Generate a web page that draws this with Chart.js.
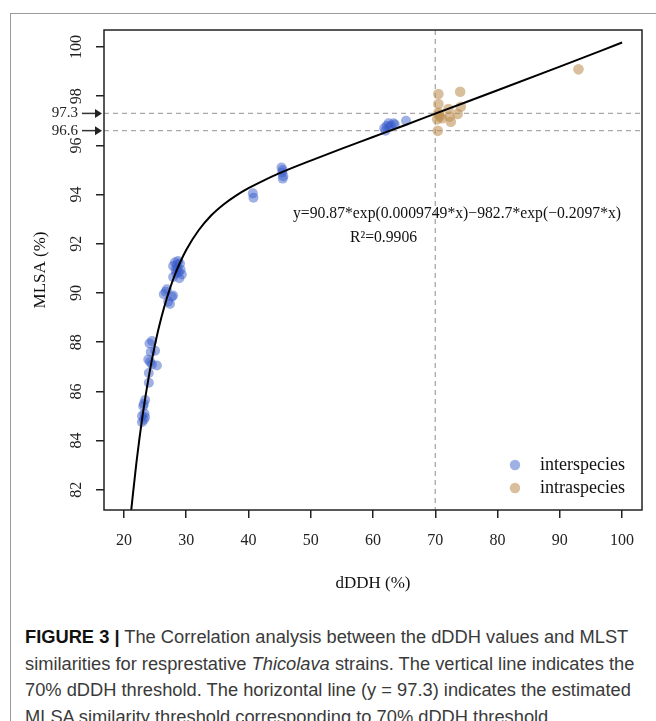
<!DOCTYPE html>
<html>
<head>
<meta charset="utf-8">
<script src="https://cdn.jsdelivr.net/npm/chart.js@4.4.0/dist/chart.umd.min.js"></script>
<style>
  html, body { margin: 0; padding: 0; background: #fff; overflow: hidden; width: 656px; height: 721px; }
  #frame { position: absolute; left: 10px; top: 13px; width: 700px; height: 760px; border: 1.5px solid #9a9a9a; box-sizing: border-box; }
  #wrap { position: absolute; left: 0; top: 0; width: 656px; height: 600px; }
  #caption { position: absolute; left: 25px; top: 624px; font-family: 'Liberation Sans', Arial, sans-serif; font-size: 18.3px; line-height: 26.5px; color: #3a3a3a; white-space: nowrap; }
  #caption b { color: #111; }
</style>
</head>
<body>
<div id="frame"></div>
<div id="wrap"><canvas id="chart" width="656" height="600"></canvas></div>
<div id="caption"><b>FIGURE 3 |</b> The Correlation analysis between the dDDH values and MLST<br>similarities for resprestative <i>Thicolava</i> strains. The vertical line indicates the<br>70% dDDH threshold. The horizontal line (y = 97.3) indicates the estimated<br>MLSA similarity threshold corresponding to 70% dDDH threshold.</div>
<script>
// interspecies (blue)
var interX = [23.4, 23.1, 23.2, 22.9, 23.3, 23.2, 22.9, 23.4,
              24.0, 24.0, 24.5, 23.9, 25.3, 24.3, 25.0, 24.1, 24.5, 24.2,
              26.9, 26.4, 27.7, 27.1, 27.4, 27.9, 26.7,
              28.2, 28.7, 27.9, 28.6, 29.1, 28.4, 28.9, 27.9, 29.3, 28.5, 29.0, 28.8, 28.3,
              40.7, 40.8,
              45.3, 45.5, 45.4, 45.6, 45.5,
              61.8, 62.2, 62.5, 62.9, 63.3, 62.0, 63.5, 65.3, 62.6];
var interY = [85.65, 85.4, 85.5, 85.0, 85.1, 84.85, 84.75, 84.95,
              86.35, 86.75, 87.1, 87.3, 87.05, 87.6, 87.65, 87.95, 88.05, 87.2,
              90.15, 89.95, 89.85, 89.65, 89.55, 89.9, 90.05,
              91.25, 91.3, 91.1, 91.0, 90.95, 90.8, 90.6, 90.65, 90.75, 91.15, 91.2, 90.85, 90.95,
              94.05, 93.87,
              95.1, 95.0, 94.9, 94.75, 94.65,
              96.7, 96.8, 96.9, 96.8, 96.9, 96.6, 96.85, 97.0, 96.75];

// intraspecies (tan)
var intraX = [70.5, 74.0, 70.5, 72.1, 74.1, 70.5, 70.7, 70.3, 71.1, 72.3, 72.5, 73.6, 70.4, 93.0, 70.6];
var intraY = [98.09, 98.18, 97.68, 97.48, 97.57, 97.33, 97.17, 97.06, 97.1, 97.17, 96.96, 97.28, 96.59, 99.09, 97.25];

// fitted curve
var fitX = [21.17, 22, 23, 24, 25, 26, 27, 28, 29, 30, 32, 34, 36, 38, 40, 42, 45, 50, 55, 60, 65, 70, 80, 90, 100];
var fitY = [81.17, 83.09, 85.03, 86.61, 87.92, 88.99, 89.88, 90.62, 91.23, 91.75, 92.55, 93.15, 93.60, 93.96, 94.26,
            94.52, 94.87, 95.38, 95.87, 96.34, 96.81, 97.29, 98.24, 99.20, 100.18];

var xTicks = [20, 30, 40, 50, 60, 70, 80, 90, 100];
var yTicks = [82, 84, 86, 88, 90, 92, 94, 96, 98, 100];
var refLines = [97.3, 96.6];
var dddhCut = 70;
var seriesNames = ['interspecies', 'intraspecies'];

var serif = "'Liberation Serif', 'Times New Roman', serif";
var blue = 'rgba(55, 90, 200, 0.48)';
var tan = 'rgba(190, 145, 85, 0.58)';

function pts(xs, ys) {
    return xs.map(function(v, i) { return {x: v, y: ys[i]}; });
}

var decor = {
    id: 'decor',
    beforeDatasetsDraw: function(chart) {
        var ctx = chart.ctx, a = chart.chartArea, x = chart.scales.x, y = chart.scales.y;
        ctx.save();
        ctx.strokeStyle = '#a8a8a8';
        ctx.lineWidth = 1.3;
        ctx.setLineDash([5, 4]);
        var px = x.getPixelForValue(dddhCut);
        ctx.beginPath(); ctx.moveTo(px, a.top); ctx.lineTo(px, a.bottom); ctx.stroke();
        refLines.forEach(function(v) {
            var py = y.getPixelForValue(v);
            ctx.beginPath(); ctx.moveTo(a.left, py); ctx.lineTo(a.right, py); ctx.stroke();
        });
        ctx.restore();
    },
    afterDraw: function(chart) {
        var ctx = chart.ctx, a = chart.chartArea, y = chart.scales.y;
        ctx.save();
        // plot box
        ctx.strokeStyle = '#222';
        ctx.lineWidth = 1.5;
        ctx.strokeRect(a.left, a.top, a.right - a.left, a.bottom - a.top);

        // rotated y tick labels
        ctx.fillStyle = '#222';
        ctx.font = '16px ' + serif;
        ctx.textAlign = 'center';
        ctx.textBaseline = 'middle';
        y.ticks.forEach(function(t) {
            var py = y.getPixelForValue(t.value);
            ctx.save();
            ctx.translate(a.left - 27, py);
            ctx.rotate(-Math.PI / 2);
            ctx.fillText(String(t.value), 0, 0);
            ctx.restore();
        });

        // threshold arrows
        ctx.font = '15px ' + serif;
        ctx.textAlign = 'right';
        ctx.strokeStyle = '#333';
        ctx.fillStyle = '#222';
        ctx.lineWidth = 1.5;
        refLines.forEach(function(v) {
            var py = y.getPixelForValue(v);
            ctx.fillText(v.toFixed(1), a.left - 26, py);
            ctx.beginPath(); ctx.moveTo(a.left - 22, py); ctx.lineTo(a.left - 8, py); ctx.stroke();
            ctx.beginPath();
            ctx.moveTo(a.left - 9, py - 4.5);
            ctx.lineTo(a.left - 2, py);
            ctx.lineTo(a.left - 9, py + 4.5);
            ctx.closePath();
            ctx.fill();
        });

        // equation
        ctx.font = '15.7px ' + serif;
        ctx.textAlign = 'left';
        ctx.fillStyle = '#111';
        ctx.fillText('y=90.87*exp(0.0009749*x)\u2212982.7*exp(\u22120.2097*x)', 293, 214);
        ctx.fillText('R\u00b2=0.9906', 350, 238);

        // legend
        ctx.font = '18px ' + serif;
        [blue, tan].forEach(function(c, i) {
            var ly = a.bottom - 45 + i * 23;
            ctx.fillStyle = c;
            ctx.beginPath(); ctx.arc(a.right - 127, ly, 5.2, 0, Math.PI * 2); ctx.fill();
            ctx.fillStyle = '#111';
            ctx.fillText(seriesNames[i], a.right - 102, ly);
        });
        ctx.restore();
    }
};

new Chart(document.getElementById('chart').getContext('2d'), {
    type: 'scatter',
    data: {
        datasets: [
            {
                type: 'line',
                label: 'fit',
                data: pts(fitX, fitY),
                borderColor: '#000',
                borderWidth: 2,
                pointRadius: 0,
                cubicInterpolationMode: 'monotone',
                fill: false
            },
            {
                label: seriesNames[0],
                data: pts(interX, interY),
                backgroundColor: blue,
                borderWidth: 0,
                pointRadius: 5
            },
            {
                label: seriesNames[1],
                data: pts(intraX, intraY),
                backgroundColor: tan,
                borderWidth: 0,
                pointRadius: 5.3
            }
        ]
    },
    options: {
        responsive: false,
        animation: false,
        layout: { padding: { left: 0, right: 14, top: 30, bottom: 0 } },
        plugins: { legend: { display: false }, tooltip: { enabled: false } },
        scales: {
            x: {
                type: 'linear',
                min: 16.8,
                max: 103.2,
                afterBuildTicks: function(s) { s.ticks = xTicks.map(function(v) { return {value: v}; }); },
                afterFit: function(s) { s.height = 90; },
                border: { display: false },
                grid: { drawOnChartArea: false, drawTicks: true, tickLength: 8, tickColor: '#222', lineWidth: 1.5 },
                ticks: { color: '#222', padding: 13, font: { family: serif, size: 16 } },
                title: { display: true, text: 'dDDH (%)', color: '#111', font: { family: serif, size: 17 }, padding: { top: 0, bottom: 6 } }
            },
            y: {
                type: 'linear',
                min: 81.18,
                max: 100.69,
                afterBuildTicks: function(s) { s.ticks = yTicks.map(function(v) { return {value: v}; }); },
                afterFit: function(s) { s.width = 104; },
                border: { display: false },
                grid: { drawOnChartArea: false, drawTicks: true, tickLength: 8, tickColor: '#222', lineWidth: 1.5 },
                ticks: { display: false },
                title: { display: true, text: 'MLSA (%)', color: '#111', font: { family: serif, size: 17 }, padding: { top: 30, bottom: 0 } }
            }
        }
    },
    plugins: [decor]
});
</script>
</body>
</html>
